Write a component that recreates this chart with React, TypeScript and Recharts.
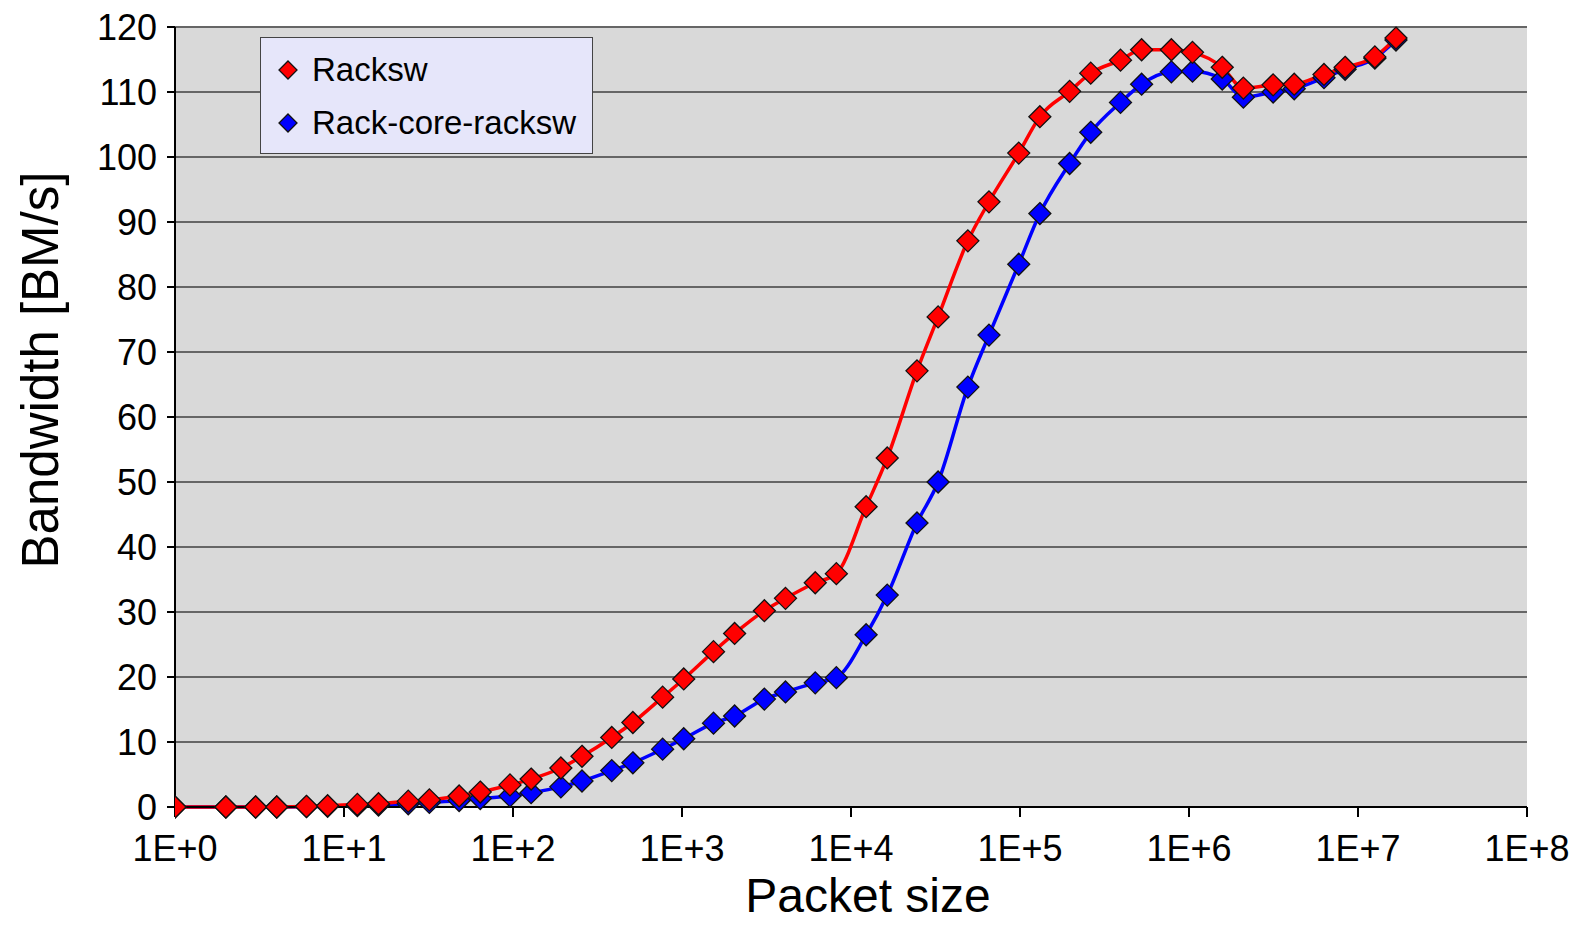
import { LineChart, Line, XAxis, YAxis, CartesianGrid, Legend, Label } from 'recharts'

// packet sizes: 1, 2, 3, 4, 6, 8, 12, ... up to 2^24
const sizes = [
  1, 2, 3, 4, 6, 8, 12, 16, 24, 32, 48, 64, 96, 128, 192, 256, 384, 512, 768, 1024,
  1536, 2048, 3072, 4096, 6144, 8192, 12288, 16384, 24576, 32768, 49152, 65536,
  98304, 131072, 196608, 262144, 393216, 524288, 786432, 1048576, 1572864, 2097152,
  3145728, 4194304, 6291456, 8388608, 12582912, 16777216,
]

const racksw = [
  0, 0, 0, 0, 0.1, 0.2, 0.4, 0.5, 0.9, 1.1, 1.7, 2.3, 3.4, 4.3, 6.0, 7.8, 10.7, 13.0,
  16.9, 19.7, 23.9, 26.7, 30.2, 32.1, 34.5, 35.9, 46.2, 53.7, 67.1, 75.4, 87.1, 93.1,
  100.6, 106.2, 110.1, 112.9, 114.9, 116.5, 116.5, 116.1, 113.8, 110.6, 111.1, 111.2,
  112.7, 113.8, 115.4, 118.3,
]

const rackCore = [
  0, 0, 0, 0, 0.05, 0.1, 0.2, 0.3, 0.5, 0.7, 1.0, 1.3, 1.7, 2.2, 3.1, 4.0, 5.6, 6.8,
  8.9, 10.5, 12.9, 14.0, 16.6, 17.7, 19.1, 19.9, 26.5, 32.6, 43.7, 50.0, 64.6, 72.6,
  83.5, 91.3, 99.0, 103.8, 108.4, 111.2, 113.1, 113.2, 112.0, 109.2, 110.0, 110.5,
  112.2, 113.5, 115.2, 118.0,
]

const xTicks = [1, 1e1, 1e2, 1e3, 1e4, 1e5, 1e6, 1e7, 1e8]
const yTicks = [0, 10, 20, 30, 40, 50, 60, 70, 80, 90, 100, 110, 120]

const data = sizes.map((size, i) => ({ size, racksw: racksw[i], rackCore: rackCore[i] }))

const font = '"Liberation Sans", Arial, Helvetica, sans-serif'

function Diamond(props: any) {
  const { cx, cy, fill, r = 11 } = props
  if (cx == null || cy == null) return <g />
  return (
    <path
      d={`M${cx},${cy - r}L${cx + r},${cy}L${cx},${cy + r}L${cx - r},${cy}Z`}
      fill={fill}
      stroke="#111"
      strokeWidth={1.3}
    />
  )
}

function LegendBox() {
  const items = [
    { name: 'Racksw', color: '#ff0000' },
    { name: 'Rack-core-racksw', color: '#0000ff' },
  ]
  return (
    <div
      style={{
        width: 333,
        height: 117,
        background: '#e6e6fa',
        border: '1px solid #444',
        boxSizing: 'border-box',
        fontFamily: font,
        fontSize: 33,
        color: '#000',
        paddingTop: 5,
      }}
    >
      {items.map((it) => (
        <div key={it.name} style={{ display: 'flex', alignItems: 'center', height: 53 }}>
          <svg width={50} height={30}>
            <Diamond cx={27} cy={15} r={9} fill={it.color} />
          </svg>
          <span style={{ marginLeft: 1 }}>{it.name}</span>
        </div>
      ))}
    </div>
  )
}

export default function App() {
  return (
    <LineChart
      width={1565}
      height={916}
      data={data}
      margin={{ top: 19, right: 46, left: 67, bottom: 37 }}
    >
      <CartesianGrid vertical={false} fill="#d9d9d9" stroke="#666" strokeWidth={2} />
      <XAxis
        dataKey="size"
        type="number"
        scale="log"
        domain={[1, 1e8]}
        ticks={xTicks}
        tickFormatter={(v: number) => `1E+${Math.round(Math.log10(v))}`}
        tick={{ fill: '#000', fontSize: 36, fontFamily: font }}
        tickSize={10}
        tickMargin={18}
        height={80}
        stroke="#000"
        strokeWidth={2}
        allowDataOverflow
      >
        <Label
          content={() => (
            <text x={860} y={887} textAnchor="middle" dominantBaseline="central" fontSize={48} fontFamily={font} fill="#000">
              Packet size
            </text>
          )}
        />
      </XAxis>
      <YAxis
        type="number"
        domain={[0, 120]}
        ticks={yTicks}
        tick={{ fill: '#000', fontSize: 36, fontFamily: font }}
        tickSize={8}
        tickMargin={10}
        width={100}
        stroke="#000"
        strokeWidth={2}
        interval={0}
      >
        <Label
          content={() => (
            <text
              x={32}
              y={362}
              transform="rotate(-90 32 362)"
              textAnchor="middle"
              dominantBaseline="central"
              fontSize={51}
              fontFamily={font}
              fill="#000"
            >
              Bandwidth [BM/s]
            </text>
          )}
        />
      </YAxis>
      <Legend
        layout="vertical"
        align="center"
        verticalAlign="middle"
        content={() => <LegendBox />}
        wrapperStyle={{ top: 29, left: 252, width: 333 }}
      />
      <Line
        dataKey="rackCore"
        name="Rack-core-racksw"
        type="monotone"
        stroke="#0000ff"
        strokeWidth={3.5}
        fill="#0000ff"
        dot={(p: any) => <Diamond key={`b${p.index}`} cx={p.cx} cy={p.cy} fill="#0000ff" />}
        isAnimationActive={false}
      />
      <Line
        dataKey="racksw"
        name="Racksw"
        type="monotone"
        stroke="#ff0000"
        strokeWidth={3.5}
        fill="#ff0000"
        dot={(p: any) => <Diamond key={`r${p.index}`} cx={p.cx} cy={p.cy} fill="#ff0000" />}
        isAnimationActive={false}
      />
    </LineChart>
  )
}
